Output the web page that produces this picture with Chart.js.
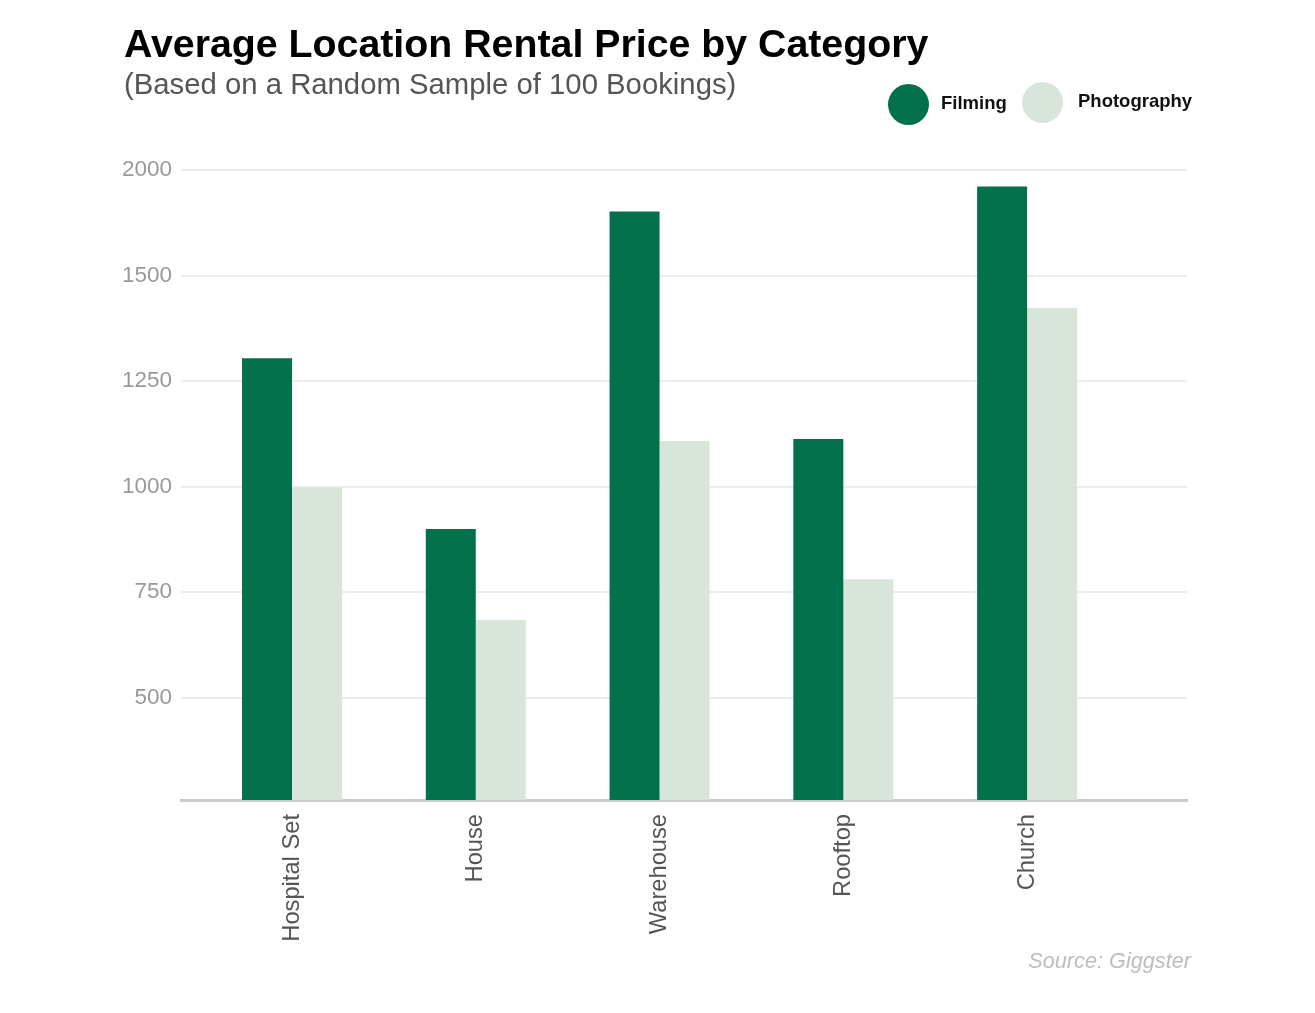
<!DOCTYPE html>
<html>
<head>
<meta charset="utf-8">
<script src="https://cdn.jsdelivr.net/npm/chart.js@4.4.0/dist/chart.umd.min.js"></script>
<style>
  html, body { margin: 0; padding: 0; background: #fff; }
  body { width: 1315px; height: 1013px; position: relative; overflow: hidden; font-family: "Liberation Sans", Arial, sans-serif; }
  #wrap { position: absolute; left: 0; top: 0; width: 1315px; height: 1013px; }
  #title { position: absolute; left: 124px; top: 21px; font-size: 39.3px; font-weight: bold; color: #000; white-space: nowrap; }
  #subtitle { position: absolute; left: 124px; top: 67px; font-size: 29.3px; color: #555; white-space: nowrap; }
  #legend { position: absolute; left: 0; top: 0; }
  .lg-dot { position: absolute; width: 41px; height: 41px; border-radius: 50%; }
  .lg-txt { position: absolute; font-size: 18.5px; font-weight: bold; color: #111; white-space: nowrap; }
  #source { position: absolute; right: 124px; top: 948px; font-size: 21.7px; font-style: italic; color: #bdbdbd; white-space: nowrap; }
</style>
</head>
<body>
<div id="wrap"><canvas id="c" width="1315" height="1013"></canvas></div>
<div id="title">Average Location Rental Price by Category</div>
<div id="subtitle">(Based on a Random Sample of 100 Bookings)</div>
<div id="legend"></div>
<div id="source">Source: Giggster</div>
<script>
const categories = ["Hospital Set", "House", "Warehouse", "Rooftop", "Church"];
const seriesNames = ["Filming", "Photography"];
const filming = [1304, 900, 1652, 1113, 1711];
const photography = [998, 684, 1108, 781, 1423];
const yTickValues = [500, 750, 1000, 1250, 1500, 1750];
const yTickLabels = ["500", "750", "1000", "1250", "1500", "2000"];
const colors = ["#02714b", "#d7e5da"];

const toPoints = arr => arr.map((v, i) => ({ x: i, y: v }));

const chart = new Chart(document.getElementById('c'), {
  type: 'bar',
  data: {
    datasets: [
      { label: seriesNames[0], data: toPoints(filming), backgroundColor: colors[0], borderWidth: 0, barPercentage: 1, categoryPercentage: 0.544 },
      { label: seriesNames[1], data: toPoints(photography), backgroundColor: colors[1], borderWidth: 0, barPercentage: 1, categoryPercentage: 0.544 }
    ]
  },
  options: {
    responsive: false,
    animation: false,
    layout: { padding: { top: 170, right: 128, bottom: 0, left: 0 } },
    plugins: { legend: { display: false }, tooltip: { enabled: false }, title: { display: false } },
    scales: {
      x: {
        type: 'linear',
        min: -0.604,
        max: 4.87,
        offset: false,
        grid: { display: false, drawTicks: false },
        border: { display: true, color: '#cccccc', width: 3 },
        afterBuildTicks: s => { s.ticks = categories.map((_, i) => ({ value: i })); },
        afterFit: s => { s.height = 213; },
        ticks: {
          autoSkip: false,
          minRotation: 90,
          maxRotation: 90,
          padding: 14,
          color: '#555555',
          font: { family: '"Liberation Sans", Arial, sans-serif', size: 23.7 },
          callback: v => categories[v] ?? ''
        }
      },
      y: {
        type: 'linear',
        min: 258,
        max: 1750,
        grid: { color: '#ececec', lineWidth: 2, drawTicks: false },
        border: { display: false },
        afterBuildTicks: s => { s.ticks = yTickValues.map(v => ({ value: v })); },
        afterFit: s => { s.width = 181; },
        ticks: {
          padding: 9,
          color: '#999999',
          font: { family: '"Liberation Sans", Arial, sans-serif', size: 22.5 },
          callback: (v, i) => yTickLabels[i]
        }
      }
    }
  }
});

// HTML legend built from the datasets
const lg = document.getElementById('legend');
const legendPos = [{ dot: [888, 84], txt: [941, 92] }, { dot: [1022, 82], txt: [1078, 90] }];
chart.data.datasets.forEach((ds, i) => {
  const d = document.createElement('div');
  d.className = 'lg-dot';
  d.style.left = legendPos[i].dot[0] + 'px';
  d.style.top = legendPos[i].dot[1] + 'px';
  d.style.background = ds.backgroundColor;
  lg.appendChild(d);
  const t = document.createElement('div');
  t.className = 'lg-txt';
  t.style.left = legendPos[i].txt[0] + 'px';
  t.style.top = legendPos[i].txt[1] + 'px';
  t.textContent = ds.label;
  lg.appendChild(t);
});
</script>
</body>
</html>
